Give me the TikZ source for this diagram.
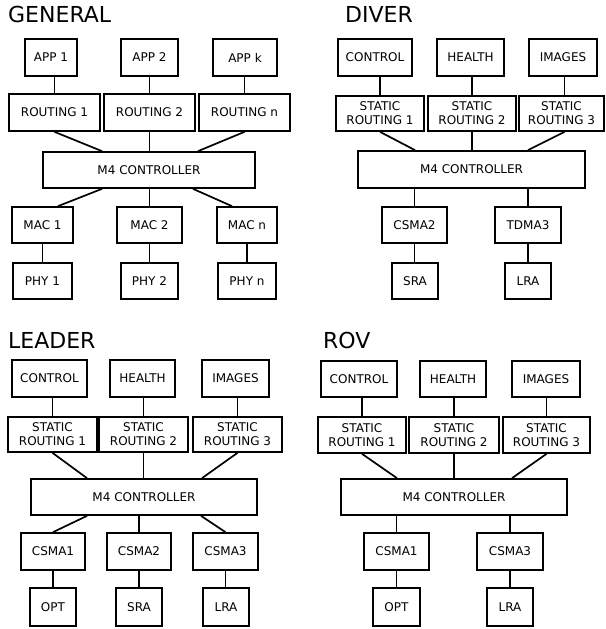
\documentclass[tikz,border=0pt]{standalone}
\usepackage{fontspec}
\setmainfont{DejaVu Sans}
\begin{document}
\begin{tikzpicture}[x=1pt,y=-1pt,
  box/.style={draw, line width=1.7pt, inner sep=0pt, align=center,
    font=\fontsize{12}{14}\selectfont},
  ttl/.style={anchor=base west, inner sep=0pt, font=\fontsize{22}{26}\selectfont},
  conn/.style={line width=1.7pt}]
\useasboundingbox (0,0) rectangle (605,629);
\newcommand\bx[6]{\node[box, minimum width={#4-#2}, minimum height={#5-#3}] (#1) at ({(#2+#4)/2},{(#3+#5)/2}) {#6};}
% ---------------- GENERAL
\node[ttl] (tg) at (8,23) {GENERAL};
\bx{ga1}{25}{39}{77}{76}{APP 1}
\bx{ga2}{121}{39}{178}{76}{APP 2}
\bx{ga3}{213}{39}{277}{76}{APP k}
\bx{gr1}{9}{94}{100}{131}{ROUTING 1}
\bx{gr2}{104}{94}{195}{131}{ROUTING 2}
\bx{gr3}{199}{94}{290}{131}{ROUTING n}
\bx{gc}{43}{152}{255}{188}{M4 CONTROLLER}
\bx{gm1}{12}{207}{73}{243}{MAC 1}
\bx{gm2}{117}{207}{182}{243}{MAC 2}
\bx{gm3}{217}{207}{277}{243}{MAC n}
\bx{gp1}{13}{263}{72}{299}{PHY 1}
\bx{gp2}{121}{263}{178}{299}{PHY 2}
\bx{gp3}{218}{263}{276}{299}{PHY n}
\draw[conn] (gr1.north) -- (gr1.north |- ga1.south);
\draw[conn] (gr2.north) -- (gr2.north |- ga2.south);
\draw[conn] (gr3.north) -- (gr3.north |- ga3.south);
\draw[conn] (gr1.south) -- ([xshift=-47pt]gc.north);
\draw[conn] (gr2.south) -- (gr2.south |- gc.north);
\draw[conn] (gr3.south) -- ([xshift=49pt]gc.north);
\draw[conn] ([xshift=-47pt]gc.south) -- ([xshift=15.5pt]gm1.north);
\draw[conn] (gm2.north) -- (gm2.north |- gc.south);
\draw[conn] ([xshift=44pt]gc.south) -- ([xshift=-15pt]gm3.north);
\draw[conn] (gm1.south) -- (gp1.north);
\draw[conn] (gm2.south) -- (gp2.north);
\draw[conn] (gm3.south) -- (gp3.north);
% ---------------- DIVER
\node[ttl] (td) at (345,23) {DIVER};
\bx{da1}{338}{39}{412}{76}{CONTROL}
\bx{da2}{437}{39}{504}{76}{HEALTH}
\bx{da3}{529}{39}{597}{76}{IMAGES}
\bx{dr1}{336}{96}{424}{131}{STATIC\\ROUTING 1}
\bx{dr2}{428}{96}{516}{131}{STATIC\\ROUTING 2}
\bx{dr3}{519}{96}{604}{131}{STATIC\\ROUTING 3}
\bx{dc}{358}{151}{585}{188}{M4 CONTROLLER}
\bx{dm1}{382}{207}{447}{243}{CSMA2}
\bx{dm2}{495}{207}{561}{243}{TDMA3}
\bx{dp1}{392}{263}{438}{299}{SRA}
\bx{dp2}{505}{263}{551}{299}{LRA}
\draw[conn] (dr1.north) -- (dr1.north |- da1.south);
\draw[conn] (dr2.north) -- (dr2.north |- da2.south);
\draw[conn] ([xshift=3pt]dr3.north) -- ([xshift=3pt]dr3.north |- da3.south);
\draw[conn] (dr1.south) -- ([xshift=-56.5pt]dc.north);
\draw[conn] (dr2.south) -- (dr2.south |- dc.north);
\draw[conn] ([xshift=3pt]dr3.south) -- ([xshift=56.5pt]dc.north);
\draw[conn] (dm1.north) -- (dm1.north |- dc.south);
\draw[conn] (dm2.north) -- (dm2.north |- dc.south);
\draw[conn] (dm1.south) -- (dm1.south |- dp1.north);
\draw[conn] (dm2.south) -- (dm2.south |- dp2.north);
% ---------------- LEADER
\node[ttl] (tl) at (8,348) {LEADER};
\bx{la1}{12}{360}{87}{397}{CONTROL}
\bx{la2}{110}{360}{175}{397}{HEALTH}
\bx{la3}{202}{360}{269}{397}{IMAGES}
\bx{lr1}{8}{417}{97}{452}{STATIC\\ROUTING 1}
\bx{lr2}{99}{417}{188}{452}{STATIC\\ROUTING 2}
\bx{lr3}{193}{417}{282}{452}{STATIC\\ROUTING 3}
\bx{lc}{31}{479}{257}{515}{M4 CONTROLLER}
\bx{lm1}{21}{533}{85}{570}{CSMA1}
\bx{lm2}{107}{533}{171}{570}{CSMA2}
\bx{lm3}{193}{533}{258}{570}{CSMA3}
\bx{lp1}{30}{588}{76}{626}{OPT}
\bx{lp2}{116}{588}{162}{626}{SRA}
\bx{lp3}{203}{588}{249}{626}{LRA}
\draw[conn] (lr1.north) -- (lr1.north |- la1.south);
\draw[conn] (lr2.north) -- (lr2.north |- la2.south);
\draw[conn] (lr3.north) -- (lr3.north |- la3.south);
\draw[conn] (lr1.south) -- ([xshift=-57pt]lc.north);
\draw[conn] (lr2.south) -- (lr2.south |- lc.north);
\draw[conn] (lr3.south) -- ([xshift=58pt]lc.north);
\draw[conn] ([xshift=-57pt]lc.south) -- (lm1.north);
\draw[conn] (lm2.north) -- (lm2.north |- lc.south);
\draw[conn] ([xshift=57pt]lc.south) -- (lm3.north);
\draw[conn] (lm1.south) -- (lm1.south |- lp1.north);
\draw[conn] (lm2.south) -- (lm2.south |- lp2.north);
\draw[conn] (lm3.south) -- (lm3.south |- lp3.north);
% ---------------- ROV
\node[ttl] (tr) at (323,348) {ROV};
\bx{ra1}{321}{361}{397}{397}{CONTROL}
\bx{ra2}{420}{361}{486}{397}{HEALTH}
\bx{ra3}{512}{361}{580}{397}{IMAGES}
\bx{rr1}{318}{417}{406}{453}{STATIC\\ROUTING 1}
\bx{rr2}{409}{417}{499}{453}{STATIC\\ROUTING 2}
\bx{rr3}{503}{417}{590}{453}{STATIC\\ROUTING 3}
\bx{rc}{341}{479}{567}{515}{M4 CONTROLLER}
\bx{rm1}{364}{533}{429}{570}{CSMA1}
\bx{rm2}{477}{533}{543}{570}{CSMA3}
\bx{rp1}{373}{588}{420}{626}{OPT}
\bx{rp2}{487}{588}{533}{626}{LRA}
\draw[conn] (rr1.north) -- (rr1.north |- ra1.south);
\draw[conn] (rr2.north) -- (rr2.north |- ra2.south);
\draw[conn] (rr3.north) -- (rr3.north |- ra3.south);
\draw[conn] (rr1.south) -- ([xshift=-57pt]rc.north);
\draw[conn] (rr2.south) -- (rr2.south |- rc.north);
\draw[conn] (rr3.south) -- ([xshift=58pt]rc.north);
\draw[conn] (rm1.north) -- (rm1.north |- rc.south);
\draw[conn] (rm2.north) -- (rm2.north |- rc.south);
\draw[conn] (rm1.south) -- (rm1.south |- rp1.north);
\draw[conn] (rm2.south) -- (rm2.south |- rp2.north);
\end{tikzpicture}
\end{document}
